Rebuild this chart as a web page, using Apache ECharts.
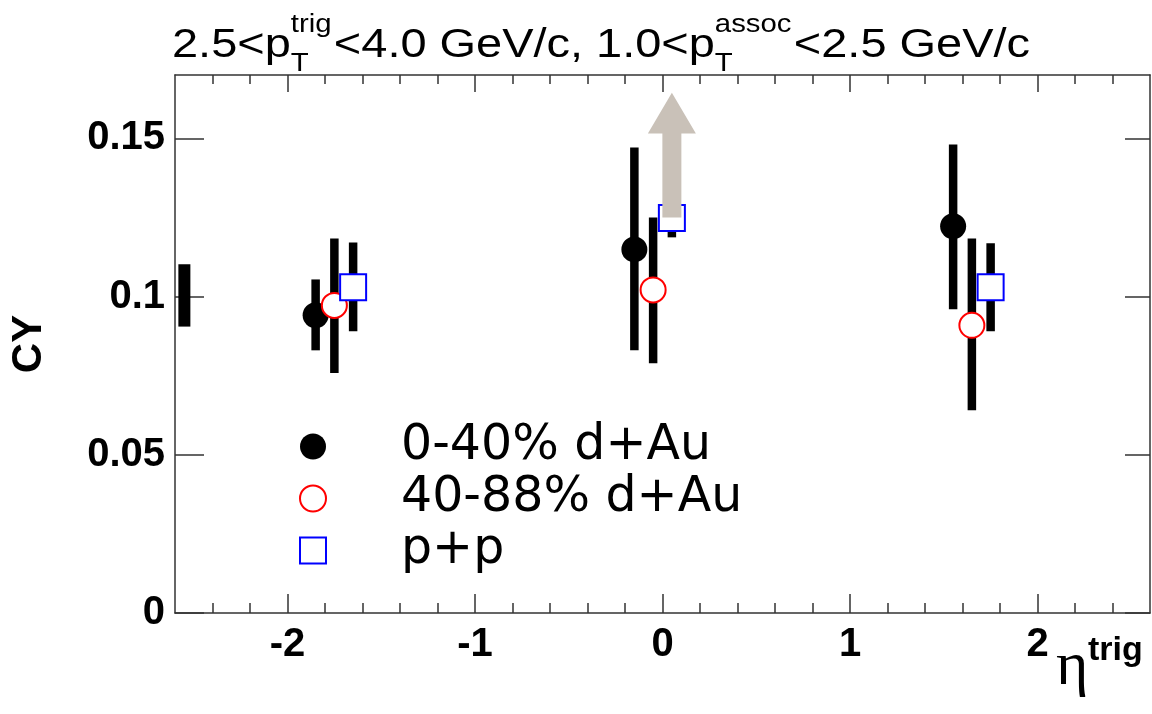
<!DOCTYPE html>
<html>
<head>
<meta charset="utf-8">
<script src="https://cdn.jsdelivr.net/npm/echarts@6/dist/echarts.min.js"></script>
<style>
html, body { margin: 0; padding: 0; background: #fff; }
#main { width: 1152px; height: 714px; }
</style>
</head>
<body>
<div id="main"></div>
<script>
// 0-40% d+Au
var etaCentral = [-1.85, -0.15, 1.55];
var cyCentral = [0.0941, 0.1149, 0.1222];
var cyCentralLo = [0.0830, 0.0830, 0.0960];
var cyCentralHi = [0.1054, 0.1471, 0.1480];
// 40-88% d+Au
var etaPeriph = [-1.75, -0.05, 1.65];
var cyPeriph = [0.0972, 0.1021, 0.0909];
var cyPeriphLo = [0.0758, 0.0789, 0.0641];
var cyPeriphHi = [0.1183, 0.1250, 0.1183];
// p+p
var etaPP = [-1.65, 0.05, 1.75];
var cyPP = [0.1029, 0.1248, 0.1029];
var cyPPLo = [0.0890, 0.1187, 0.0890];
var cyPPHi = [0.1171, 0.1300, 0.1168];
// bar sitting on the left edge (no marker)
var etaEdge = [-2.55];
var cyEdgeLo = [0.0905];
var cyEdgeHi = [0.1102];
// arrow above the p+p point at eta~0
var arrowEta = [0.05];
var arrowFrom = [0.1250];
var arrowTip = [0.1644];
var arrowHeadBase = [0.1515];

var xTicks = [-2, -1, 0, 1, 2];
var xTickLabels = ['-2', '-1', '0', '1', '2'];
var xMinorTicks = [-2.4, -2.2, -1.8, -1.6, -1.4, -1.2, -0.8, -0.6, -0.4, -0.2,
                   0.2, 0.4, 0.6, 0.8, 1.2, 1.4, 1.6, 1.8, 2.2, 2.4];
var yTicks = [0, 0.05, 0.1, 0.15];
var yTickLabels = ['0', '0.05', '0.1', '0.15'];

var legendNames = ['0-40% d+Au', '40-88% d+Au', 'p+p'];
var titleMain = ['2.5<p', '<4.0 GeV/c, 1.0<p', '<2.5 GeV/c'];
var titleSub = ['T', 'T'];
var titleSup = ['trig', 'assoc'];

var myChart = echarts.init(document.getElementById('main'));

function pick(vals, labels) {
    return function (v) {
        for (var i = 0; i < vals.length; i++) {
            if (Math.abs(vals[i] - v) < 1e-9) return labels[i];
        }
        return '';
    };
}

function rows(x, y, lo, hi) {
    return x.map(function (e, i) { return [e, y[i], lo[i], hi[i]]; });
}

// error bar + marker, ROOT style
function makeRender(marker, barW) {
    return function (params, api) {
        var x = api.value(0);
        var c = api.coord([x, api.value(1)]);
        var lo = api.coord([x, api.value(2)]);
        var hi = api.coord([x, api.value(3)]);
        var kids = [{
            type: 'rect',
            shape: { x: c[0] - barW / 2, y: hi[1], width: barW, height: lo[1] - hi[1] },
            style: { fill: '#000' }
        }];
        if (marker === 'dot') {
            kids.push({ type: 'circle', shape: { cx: c[0], cy: c[1], r: 13 }, style: { fill: '#000' } });
        } else if (marker === 'ring') {
            kids.push({ type: 'circle', shape: { cx: c[0], cy: c[1], r: 12.5 },
                style: { fill: '#fff', stroke: '#ff0000', lineWidth: 2 } });
        } else if (marker === 'box') {
            kids.push({ type: 'rect', shape: { x: c[0] - 13, y: c[1] - 13, width: 26, height: 26 },
                style: { fill: '#fff', stroke: '#0000ff', lineWidth: 2 } });
        }
        return { type: 'group', children: kids };
    };
}

// title pieces, sub/sup stacked like ROOT latex
var ctx = document.createElement('canvas').getContext('2d');
function tw(s, size) {
    ctx.font = size + 'px "Liberation Sans"';
    return ctx.measureText(s).width;
}
var bigSize = 40, smallSize = 25;
var titleKids = [];
var cx = 0;
for (var i = 0; i < titleMain.length; i++) {
    titleKids.push({ type: 'text', x: cx, y: 46, style: { text: titleMain[i], fontSize: bigSize,
        fontFamily: 'Liberation Sans', fill: '#000', verticalAlign: 'middle' } });
    cx += tw(titleMain[i], bigSize);
    if (i < titleSub.length) {
        titleKids.push({ type: 'text', x: cx, y: 64, style: { text: titleSub[i], fontSize: smallSize,
            fontFamily: 'Liberation Sans', fill: '#000', verticalAlign: 'middle' } });
        titleKids.push({ type: 'text', x: cx, y: 25, style: { text: titleSup[i], fontSize: smallSize,
            fontFamily: 'Liberation Sans', fill: '#000', verticalAlign: 'middle' } });
        cx += Math.max(tw(titleSub[i], smallSize), tw(titleSup[i], smallSize)) + 2;
    }
}
var titleScale = (1030 - 172) / cx;

var frame = { color: '#333', width: 1.5 };

option = {
    animation: false,
    backgroundColor: '#fff',
    grid: { left: 174, right: 2, top: 75, bottom: 101, containLabel: false },
    legend: {
        left: 294,
        top: 417,
        orient: 'vertical',
        itemWidth: 26,
        itemHeight: 26,
        itemGap: 3,
        selectedMode: false,
        textStyle: {
            fontSize: 49,
            fontFamily: 'DejaVu Sans',
            color: '#000',
            lineHeight: 40,
            padding: [0, 0, 0, 70]
        },
        data: [
            { name: legendNames[0], icon: 'circle', itemStyle: { color: '#000' } },
            { name: legendNames[1], icon: 'circle', itemStyle: { color: '#fff', borderColor: '#ff0000', borderWidth: 2 } },
            { name: legendNames[2], icon: 'rect', itemStyle: { color: '#fff', borderColor: '#0000ff', borderWidth: 2 } }
        ]
    },
    xAxis: [
        {
            type: 'value', min: -2.6, max: 2.6, position: 'bottom',
            axisLine: { show: true, onZero: false, lineStyle: frame },
            axisTick: { show: true, inside: true, length: 19, customValues: xTicks, lineStyle: frame },
            axisLabel: {
                customValues: xTicks, formatter: pick(xTicks, xTickLabels),
                fontSize: 40, fontWeight: 'bold', fontFamily: 'Liberation Sans', color: '#000', margin: 12
            },
            splitLine: { show: false }
        },
        {
            type: 'value', min: -2.6, max: 2.6, position: 'bottom',
            axisLine: { show: false, onZero: false },
            axisTick: { show: true, inside: true, length: 10, customValues: xMinorTicks, lineStyle: frame },
            axisLabel: { show: false },
            splitLine: { show: false }
        },
        {
            type: 'value', min: -2.6, max: 2.6, position: 'top',
            axisLine: { show: true, onZero: false, lineStyle: frame },
            axisTick: { show: true, inside: true, length: 17, customValues: xTicks, lineStyle: frame },
            axisLabel: { show: false },
            splitLine: { show: false }
        },
        {
            type: 'value', min: -2.6, max: 2.6, position: 'top',
            axisLine: { show: false, onZero: false },
            axisTick: { show: true, inside: true, length: 9, customValues: xMinorTicks, lineStyle: frame },
            axisLabel: { show: false },
            splitLine: { show: false }
        }
    ],
    yAxis: [
        {
            type: 'value', min: 0, max: 0.17, position: 'left',
            name: 'CY', nameLocation: 'middle', nameGap: 125, nameRotate: 90,
            nameTextStyle: { fontSize: 42, fontWeight: 'bold', fontFamily: 'Liberation Sans', color: '#000' },
            axisLine: { show: true, onZero: false, lineStyle: frame },
            axisTick: { show: true, inside: true, length: 29, customValues: yTicks, lineStyle: frame },
            axisLabel: {
                customValues: yTicks, formatter: pick(yTicks, yTickLabels),
                fontSize: 40, fontWeight: 'bold', fontFamily: 'Liberation Sans', color: '#000', margin: 10
            },
            splitLine: { show: false }
        },
        {
            type: 'value', min: 0, max: 0.17, position: 'right',
            axisLine: { show: true, onZero: false, lineStyle: frame },
            axisTick: { show: true, inside: true, length: 25, customValues: yTicks, lineStyle: frame },
            axisLabel: { show: false },
            splitLine: { show: false }
        }
    ],
    graphic: [
        { type: 'group', x: 172, y: 0, scaleX: titleScale, children: titleKids },
        { type: 'text', x: 1056, y: 668, style: { text: '\u03b7', fontSize: 62, fontFamily: 'Liberation Serif',
            fill: '#000', verticalAlign: 'middle' } },
        { type: 'text', x: 1088, y: 651, style: { text: 'trig', fontSize: 34, fontWeight: 'bold',
            fontFamily: 'Liberation Sans', fill: '#000', verticalAlign: 'middle' } }
    ],
    series: [
        {
            name: 'edge', type: 'custom', xAxisIndex: 0, yAxisIndex: 0,
            renderItem: makeRender('none', 12),
            encode: { x: 0, y: 1 },
            data: etaEdge.map(function (e, i) { return [e, cyEdgeLo[i], cyEdgeLo[i], cyEdgeHi[i]]; })
        },
        {
            name: legendNames[0], type: 'custom', xAxisIndex: 0, yAxisIndex: 0,
            renderItem: makeRender('dot', 8.5),
            encode: { x: 0, y: 1 },
            data: rows(etaCentral, cyCentral, cyCentralLo, cyCentralHi)
        },
        {
            name: legendNames[1], type: 'custom', xAxisIndex: 0, yAxisIndex: 0,
            renderItem: makeRender('ring', 8.5),
            encode: { x: 0, y: 1 },
            data: rows(etaPeriph, cyPeriph, cyPeriphLo, cyPeriphHi)
        },
        {
            name: legendNames[2], type: 'custom', xAxisIndex: 0, yAxisIndex: 0,
            renderItem: makeRender('box', 8.5),
            encode: { x: 0, y: 1 },
            data: rows(etaPP, cyPP, cyPPLo, cyPPHi)
        },
        {
            name: 'arrow', type: 'custom', xAxisIndex: 0, yAxisIndex: 0,
            encode: { x: 0, y: 1 },
            renderItem: function (params, api) {
                var x = api.value(0);
                var b = api.coord([x, api.value(1)]);
                var t = api.coord([x, api.value(2)]);
                var h = api.coord([x, api.value(3)]);
                var sw = 9.5, hw = 24;
                return {
                    type: 'polygon',
                    shape: { points: [[b[0] - sw, b[1]], [b[0] - sw, h[1]], [b[0] - hw, h[1]], [t[0], t[1]],
                                      [b[0] + hw, h[1]], [b[0] + sw, h[1]], [b[0] + sw, b[1]]] },
                    style: { fill: '#c9c1b8' }
                };
            },
            data: arrowEta.map(function (e, i) { return [e, arrowFrom[i], arrowTip[i], arrowHeadBase[i]]; })
        }
    ]
};
myChart.setOption(option);
</script>
</body>
</html>
